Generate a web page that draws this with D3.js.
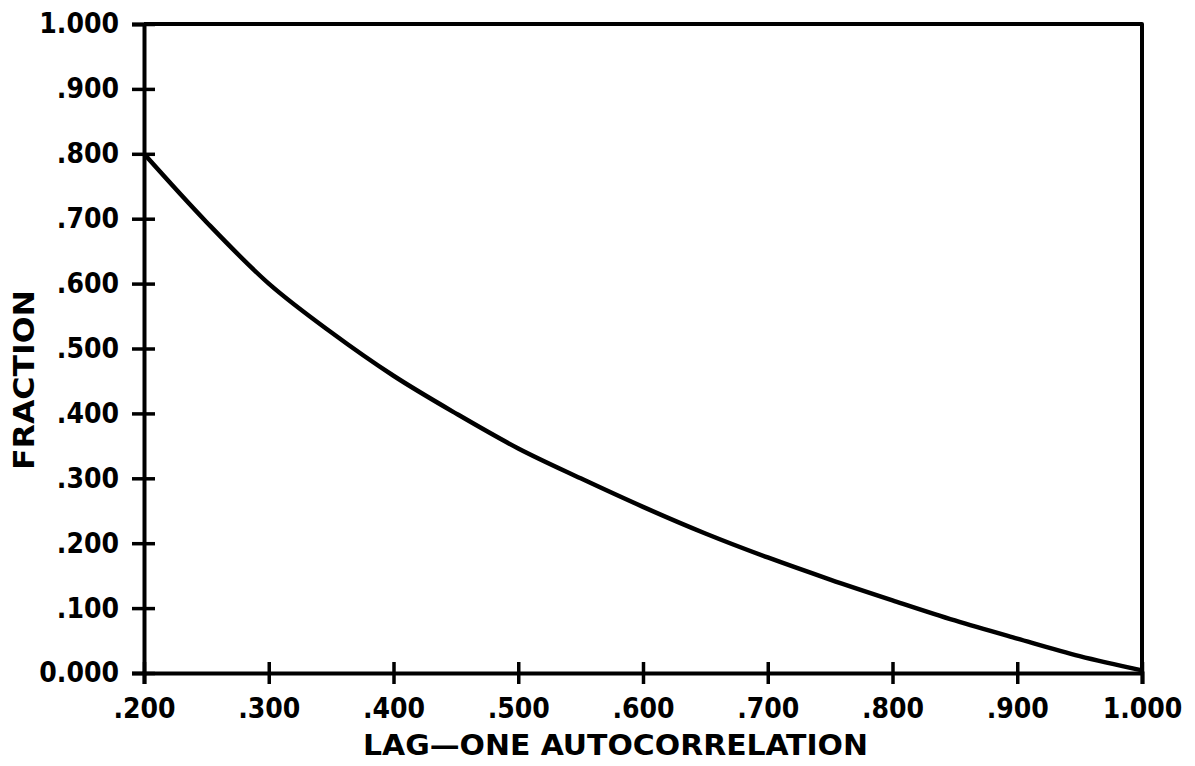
<!DOCTYPE html>
<html>
<head>
<meta charset="utf-8">
<title>Fraction vs lag-one autocorrelation</title>
<script src="https://d3js.org/d3.v7.min.js"></script>
<style>
  body { margin: 0; background: #fff; }
  svg { display: block; }
  .lbl { font-family: "DejaVu Sans Condensed", "DejaVu Sans", sans-serif; font-weight: bold; fill: #000; }
</style>
</head>
<body>
<div id="chart"></div>
<script>
// values
var rho = [0.20, 0.25, 0.30, 0.35, 0.40, 0.45, 0.50, 0.55, 0.60, 0.65, 0.70, 0.75, 0.80, 0.85, 0.90, 0.95, 1.00];
var fraction = [0.800, 0.695, 0.600, 0.525, 0.458, 0.400, 0.346, 0.300, 0.256, 0.215, 0.178, 0.144, 0.112, 0.081, 0.053, 0.026, 0.004];
var xTicks = [0.2, 0.3, 0.4, 0.5, 0.6, 0.7, 0.8, 0.9, 1.0];
var yTicks = [0, 0.1, 0.2, 0.3, 0.4, 0.5, 0.6, 0.7, 0.8, 0.9, 1.0];

const width = 1195, height = 766;
const margin = {left: 144, right: 53, top: 24, bottom: 93};

const svg = d3.select("#chart").append("svg")
  .attr("width", width)
  .attr("height", height);

const x = d3.scaleLinear().domain([0.2, 1.0]).range([margin.left, width - margin.right]);
const y = d3.scaleLinear().domain([0, 1.0]).range([height - margin.bottom, margin.top]);

// label format: .200, 1.000, 0.000
function fmt(v) {
  var s = d3.format(".3f")(v);
  if (v > 0 && v < 1) s = s.slice(1);
  return s;
}

// frame (top and right sides)
svg.append("path")
  .attr("d", "M" + x(0.2) + "," + y(1) + "H" + x(1) + "V" + y(0))
  .attr("fill", "none").attr("stroke", "#000").attr("stroke-width", 4)
  .attr("stroke-linejoin", "round");

// x axis
const xAxis = svg.append("g")
  .attr("transform", "translate(0," + y(0) + ")")
  .call(d3.axisBottom(x).tickValues(xTicks).tickSize(11).tickPadding(10).tickFormat(fmt));
xAxis.select(".domain").attr("stroke-width", 4);
xAxis.selectAll(".tick line").attr("y1", -11).attr("stroke-width", 3.5);
xAxis.selectAll(".tick text").attr("class", "lbl").style("font-size", "28px").attr("dy", "0.85em");
xAxis.attr("font-family", null).attr("font-size", null);

// y axis
const yAxis = svg.append("g")
  .attr("transform", "translate(" + x(0.2) + ",0)")
  .call(d3.axisLeft(y).tickValues(yTicks).tickSize(12).tickPadding(13).tickFormat(fmt));
yAxis.select(".domain").attr("stroke-width", 4);
yAxis.selectAll(".tick line").attr("x2", 11).attr("x1", -12).attr("stroke-width", 3.5);
yAxis.selectAll(".tick text").attr("class", "lbl").style("font-size", "28px");
yAxis.attr("font-family", null).attr("font-size", null);

// curve
const line = d3.line()
  .x((d, i) => x(rho[i]))
  .y(d => y(d))
  .curve(d3.curveCatmullRom);

svg.append("path")
  .datum(fraction)
  .attr("d", line)
  .attr("fill", "none")
  .attr("stroke", "#000")
  .attr("stroke-width", 4.5);

// axis titles
svg.append("text")
  .attr("class", "lbl")
  .attr("x", 363).attr("y", 755)
  .attr("textLength", 505).attr("lengthAdjust", "spacingAndGlyphs")
  .style("font-size", "28px")
  .text("LAG\u2014ONE AUTOCORRELATION");

svg.append("text")
  .attr("class", "lbl")
  .attr("transform", "translate(34,470) rotate(-90)")
  .attr("textLength", 180).attr("lengthAdjust", "spacingAndGlyphs")
  .style("font-size", "28px")
  .text("FRACTION");
</script>
</body>
</html>
